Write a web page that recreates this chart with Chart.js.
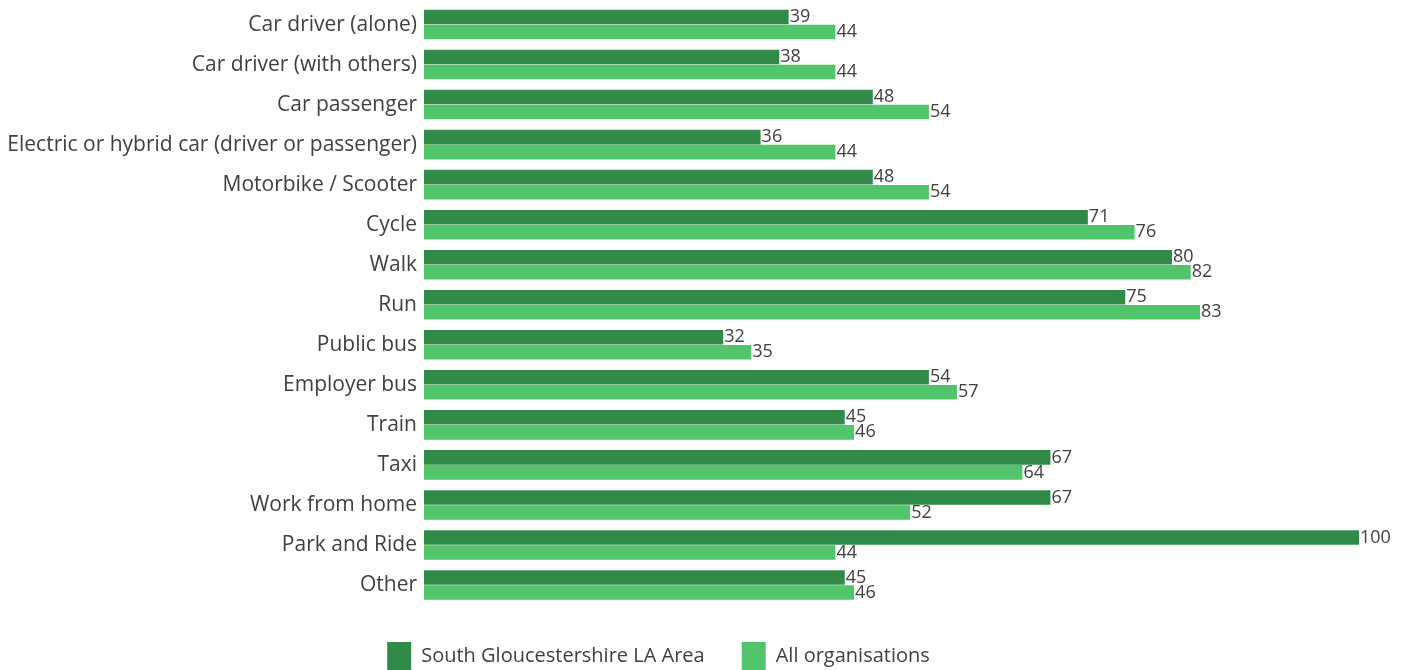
<!DOCTYPE html>
<html>
<head>
<meta charset="utf-8">
<script src="https://cdn.jsdelivr.net/npm/chart.js@4/dist/chart.umd.min.js"></script>
<style>
html,body{margin:0;padding:0;background:#fff;}
#wrap{width:1405px;height:670px;position:relative;}
</style>
</head>
<body>
<div id="wrap"><canvas id="c" width="1405" height="670"></canvas></div>
<script>
const categories = [
  "Car driver (alone)",
  "Car driver (with others)",
  "Car passenger",
  "Electric or hybrid car (driver or passenger)",
  "Motorbike / Scooter",
  "Cycle",
  "Walk",
  "Run",
  "Public bus",
  "Employer bus",
  "Train",
  "Taxi",
  "Work from home",
  "Park and Ride",
  "Other"
];
const southGlos = [39, 38, 48, 36, 48, 71, 80, 75, 32, 54, 45, 67, 67, 100, 45];
const allOrgs   = [44, 44, 54, 44, 54, 76, 82, 83, 35, 57, 46, 64, 52, 44, 46];
const seriesNames = ["South Gloucestershire LA Area", "All organisations"];

const FONT = "'Open Sans', Lato, sans-serif";
const TEXT = "#404040";

const valueLabels = {
  id: "valueLabels",
  afterDatasetsDraw(chart) {
    const ctx = chart.ctx;
    ctx.save();
    ctx.font = "18px " + FONT;
    ctx.fillStyle = TEXT;
    ctx.textAlign = "left";
    ctx.textBaseline = "middle";
    chart.data.datasets.forEach((ds, di) => {
      const meta = chart.getDatasetMeta(di);
      meta.data.forEach((el, i) => {
        ctx.fillText(String(ds.data[i]), el.x + 1, el.y);
      });
    });
    ctx.restore();
  }
};

const legendShift = {
  id: "legendShift",
  afterLayout(chart) {
    const lg = chart.legend;
    if (lg) { lg.left -= 21; lg.right -= 21; }
  }
};

new Chart(document.getElementById("c"), {
  type: "bar",
  data: {
    labels: categories,
    datasets: [
      { label: seriesNames[0], data: southGlos, backgroundColor: "#2F8B47", barPercentage: 0.97, categoryPercentage: 0.75 },
      { label: seriesNames[1], data: allOrgs, backgroundColor: "#52C46B", barPercentage: 0.97, categoryPercentage: 0.75 }
    ]
  },
  options: {
    indexAxis: "y",
    responsive: false,
    animation: false,
    layout: { padding: { left: 0, right: 46, top: 4.5, bottom: -10 } },
    scales: {
      x: { display: false, min: 0, max: 100 },
      y: {
        grid: { display: false, drawTicks: false },
        border: { display: false },
        ticks: { color: TEXT, font: { family: FONT, size: 21 }, padding: 7, autoSkip: false },
        afterFit(scale) { scale.width = 424; scale.paddingTop = 0; scale.paddingBottom = 0; }
      }
    },
    plugins: {
      tooltip: { enabled: false },
      legend: {
        position: "bottom",
        labels: {
          color: TEXT,
          font: { family: FONT, size: 20 },
          boxWidth: 24,
          boxHeight: 28,
          padding: 37
        }
      }
    }
  },
  plugins: [valueLabels, legendShift]
});
</script>
</body>
</html>
